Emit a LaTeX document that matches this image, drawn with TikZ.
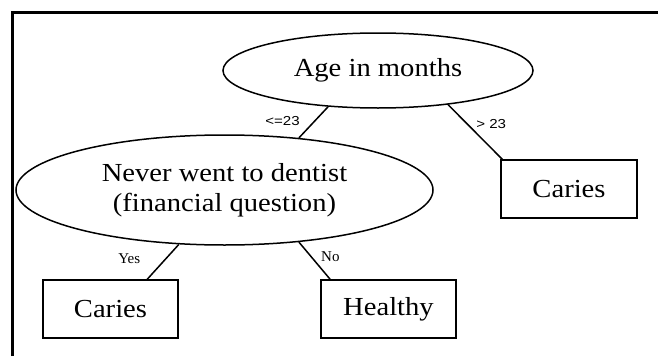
\documentclass[tikz,border=0pt]{standalone}
\usepackage{fontspec}
\setmainfont[FakeStretch=1.1]{Liberation Serif}
\newfontfamily\lblserif{Liberation Serif}
\newfontfamily\lblsans[FakeStretch=1.16]{Liberation Sans}
\usetikzlibrary{shapes}
\usetikzlibrary{positioning}
\tikzset{
    decnode/.style = {ellipse, line width=1.5pt, draw=black, align=center, inner sep=0pt, font=\fontsize{26}{30}\selectfont, text=black},
    leafnode/.style = {rectangle, line width=1.5pt, draw=black, minimum width=135pt, minimum height=58pt, inner sep=0pt, font=\fontsize{26}{30}\selectfont, text=black},
    edgen/.style = {-, line width=1.5pt, black},
    edgelbl/.style = {inner sep=1pt, font=\lblsans\fontsize{13}{15}\selectfont}, % sans labels
    edgelbls/.style = {inner sep=1pt, font=\lblserif\fontsize{15}{17}\selectfont}, % serif labels
    framel/.style = {line width=2.5pt, black}
}

\begin{document}
\begin{tikzpicture}[x=1pt, y=-1pt]
  \useasboundingbox (0,0) rectangle (658,356);
  \draw[framel] (12.7,356) -- (12.7,12.5) -- (658,12.5);

  \node[decnode, minimum width=310pt, minimum height=75pt] (age) at (378,70.5) {Age in months};
  \node[decnode, minimum width=417pt, minimum height=110pt] (never) at (224.5,190) {Never went to dentist\\(financial question)};
  \node[leafnode, minimum width=136pt] (carr) at (569,189) {Caries};
  \node[leafnode] (carl) at (110.5,309) {Caries};
  \node[leafnode] (heal) at (388.5,309) {Healthy};

  \draw[edgen] (age.216) -- node[edgelbl, pos=0.47, left=13pt] {<=23} (never.35);
  \draw[edgen] (age.334) -- node[edgelbl, pos=0.35, right=7.5pt] {> 23} ([xshift=2pt]carr.north west);
  \draw[edgen] (never.230) -- node[edgelbls, pos=0.41, left=24pt] {Yes} (carl.39);
  \draw[edgen] (never.325) -- node[edgelbls, pos=0.38, right=8.7pt] {No} (heal.153);
\end{tikzpicture}
\end{document}
